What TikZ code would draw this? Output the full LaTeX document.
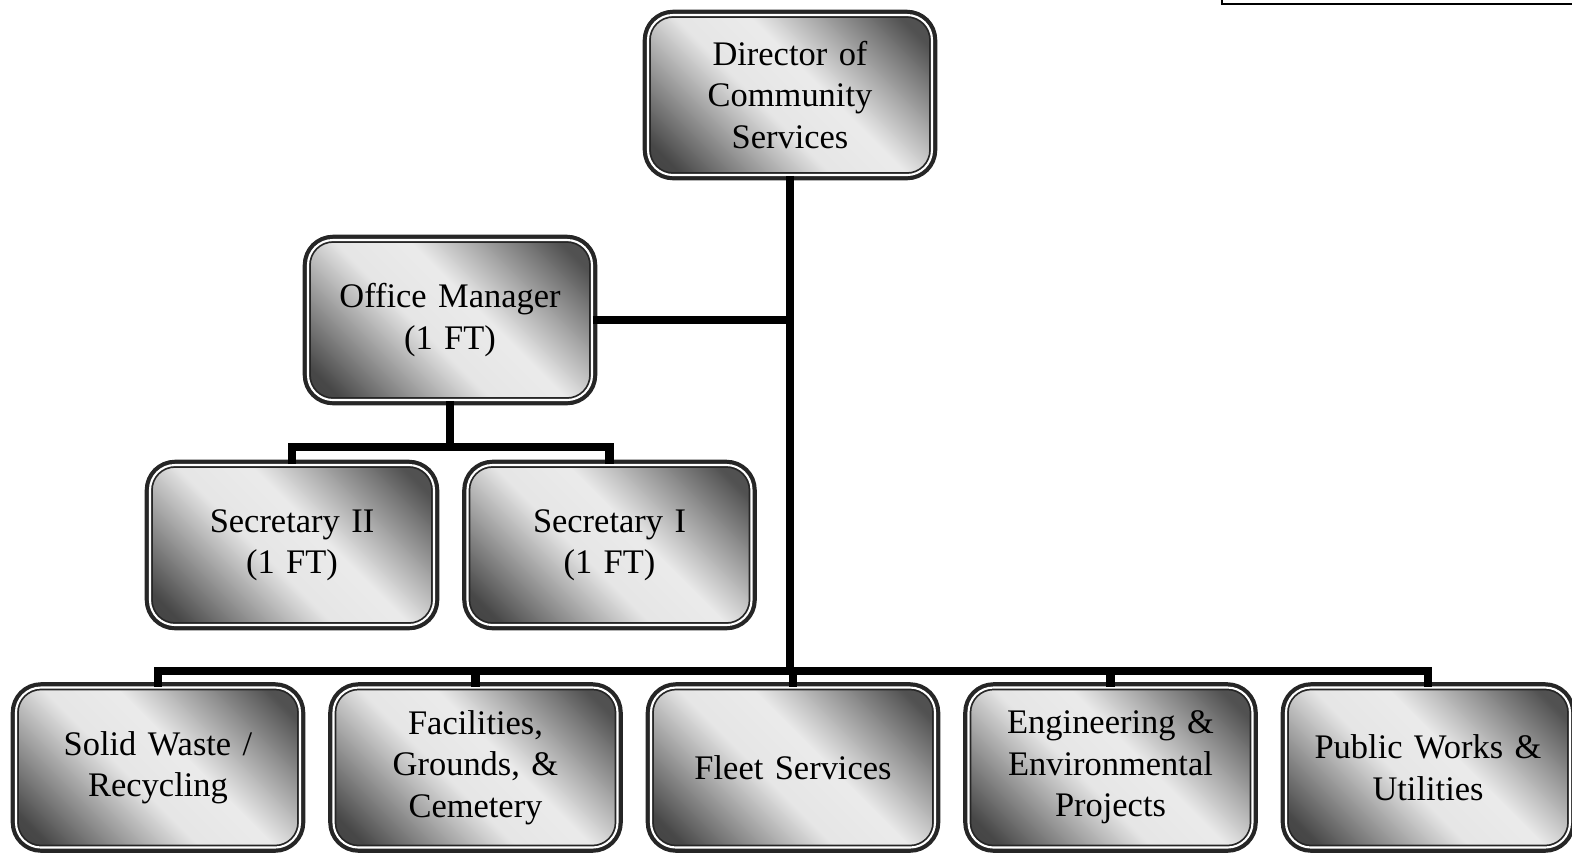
\documentclass[tikz,border=0pt]{standalone}
\usepackage{fontspec}
\setmainfont{Liberation Serif}
\usepackage[]{xcolor}

\pgfdeclarehorizontalshading{postshade}{100bp}{color(0bp)=(black!78); color(20bp)=(black!72); color(44bp)=(black!10); color(56bp)=(black!8); color(80bp)=(black!68); color(100bp)=(black!72)}

\begin{document}
\begin{tikzpicture}[
            node distance=3.175cm,
            post/.style={rectangle, rounded corners=0.25cm, minimum width=2.84cm, minimum height=1.60cm, text width=2.6cm, align=center,
              font=\fontsize{9.8}{11.8}\selectfont,
              preaction={draw=black!85, line width=3pt},
              shade, shading=postshade, shading angle=45,
              draw=black!85, line width=0.5pt, double=white, double distance=0.6pt},
            link/.style={line width=2.5pt, black}
        ]
            \useasboundingbox (0,0) rectangle (15.72,-8.56);

            \node[post] (dir) at (7.90,-0.95) {Director of\\ Community\\ Services};
            \node[post] (office) at (4.50,-3.20) {Office Manager\\ (1 FT)};
            \node[post] (sec2) at (2.92,-5.45) {Secretary II\\ (1 FT)};
            \node[post, right of=sec2] (sec1) {Secretary I\\ (1 FT)};

            \node[post] (solid) at (1.58,-7.675) {Solid Waste /\\ Recycling};
            \node[post, right of=solid] (facil) {Facilities,\\ Grounds, \&\\ Cemetery};
            \node[post, right of=facil] (fleet) {Fleet Services};
            \node[post, right of=fleet] (engin) {Engineering \&\\ Environmental\\ Projects};
            \node[post, right of=engin] (pubw) {Public Works \&\\ Utilities};

            \coordinate (bus) at (7.90,-6.71);
            \coordinate (secbus) at (4.50,-4.47);

            \draw[link] (dir.south) -- (bus);
            \draw[link] (office.east) -- (office.east -| dir.south);
            \draw[link] (office.south) -- (secbus);
            \draw[link] (sec2.north) |- (secbus);
            \draw[link] (sec1.north) |- (secbus);
            \foreach \unit in {solid, facil, fleet, engin, pubw}
                \draw[link] (\unit.north) |- (bus);

            % cut-off box at the top right
            \draw[line width=0.6pt] (12.22,0) |- (15.72,-0.04);
        \end{tikzpicture}
\end{document}
